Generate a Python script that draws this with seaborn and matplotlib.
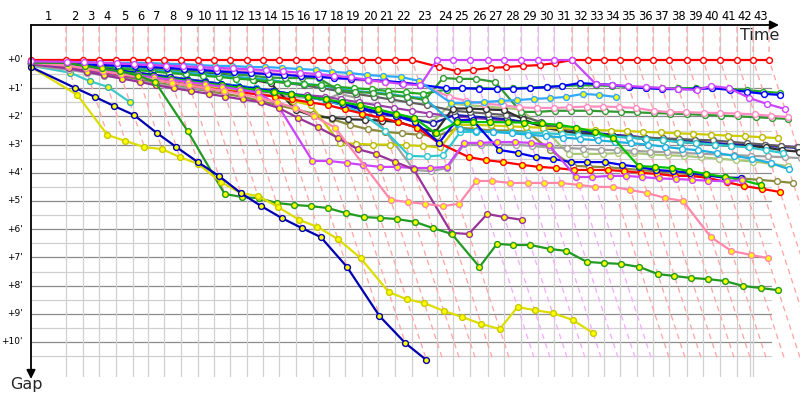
import matplotlib
matplotlib.use("Agg")
import matplotlib.pyplot as plt
import seaborn as sns
import numpy as np
import pandas as pd

# ---------------- data (gaps in minutes, index = lap 0..N) ----------------
lap_labels = [str(i) for i in range(1, 44)]
leader_time = [0, 3.80, 5.65, 7.39, 9.24, 11.09, 12.72, 14.51, 16.30, 18.10, 19.84,
               21.63, 23.48, 25.22, 27.01, 28.80, 30.65, 32.34, 34.13, 35.98, 37.72,
               39.57, 41.41, 44.13, 45.87, 47.72, 49.67, 51.41, 53.26, 55.11, 56.85,
               58.80, 60.54, 62.28, 64.02, 65.87, 67.61, 69.35, 71.30, 73.04, 74.89,
               76.74, 78.48, 80.22]
purple_lead_laps = [23, 24, 25, 26, 27, 28, 29, 30]
gap_ticks = [0, 1, 2, 3, 4, 5, 6, 7, 8, 9, 10]

red_w = [0, 0, 0, 0, 0, 0, 0, 0, 0, 0, 0, 0, 0, 0, 0, 0, 0, 0, 0, 0, 0, 0, 0,
         0.25, 0.39, 0.35, 0.28, 0.25, 0.21, 0.18, 0.11,
         0, 0, 0, 0, 0, 0, 0, 0, 0, 0, 0, 0, 0]
violet_w = [0.05, 0.06, 0.08, 0.1, 0.12, 0.15, 0.18, 0.2, 0.22, 0.25, 0.28, 0.3, 0.33, 0.36,
            0.4, 0.45, 0.5, 0.55, 0.62, 0.7, 0.78, 0.85, 0.9,
            0, 0, 0, 0, 0, 0, 0, 0, 0,
            0.85, 0.89, 0.92, 0.96, 0.99, 1.03, 1.06, 0.92, 1.0, 1.35, 1.56, 1.74]
blue_w = [0.05, 0.12, 0.15, 0.18, 0.2, 0.22, 0.25, 0.28, 0.32, 0.35, 0.4, 0.43, 0.46, 0.5,
          0.53, 0.57, 0.6, 0.64, 0.67, 0.7, 0.74, 0.8, 0.88,
          1.0, 1.0, 1.02, 1.03, 1.02, 1.0, 0.96, 0.92, 0.82,
          0.85, 0.88, 0.95, 1.0, 1.03, 1.03, 1.03, 1.0, 1.06, 1.13, 1.2, 1.24]
lightblue_y = [0.02, 0.07, 0.07, 0.1, 0.1, 0.1, 0.1, 0.14, 0.14, 0.18, 0.21, 0.21, 0.25, 0.25,
               0.28, 0.32, 0.35, 0.42, 0.46, 0.53, 0.57, 0.6, 0.74,
               1.52, 1.52, 1.49, 1.45, 1.42, 1.38, 1.35, 1.31, 1.2, 1.24, 1.31]
green_w = [0.08, 0.1, 0.13, 0.16, 0.2, 0.25, 0.28, 0.32, 0.36, 0.4, 0.45, 0.5, 0.56, 0.62,
           0.64, 0.64, 0.65, 1.06, 1.13, 1.17, 1.24, 1.31, 1.42,
           0.64, 0.67, 0.67, 0.78, 1.84, 1.84, 1.8, 1.8, 1.8,
           1.82, 1.84, 1.86, 1.88, 1.9, 1.92, 1.95, 1.97, 2.0, 2.03, 2.06, 2.09]
pink_w = [0.1, 0.08, 0.1, 0.12, 0.14, 0.16, 0.18, 0.2, 0.25, 0.3, 0.33, 0.36, 0.4, 0.45,
          0.5, 0.55, 0.58, 0.64, 0.7, 0.74, 0.78, 0.8, 0.85,
          1.3, 1.45, 1.55, 1.6, 1.68, 1.7, 1.7, 1.68, 1.65,
          1.65, 1.67, 1.7, 1.8, 1.85, 1.85, 1.87, 1.88, 1.9, 1.93, 1.98, 2.02]
green2_w = [0.1, 0.15, 0.19, 0.24, 0.3, 0.36, 0.4, 0.46, 0.5, 0.56, 0.6, 0.66, 0.7, 0.76,
            0.8, 0.86, 0.9, 0.95, 1.0, 1.04, 1.1, 1.15, 1.2,
            1.05, 1.0, 1.0, 1.02, 1.0, 0.98, 0.95, 0.92, 0.9,
            0.9, 0.92, 0.95, 0.98, 1.0, 1.0, 1.0, 0.98, 1.03, 1.07, 1.12, 1.17]
cyanA_w = [0.1, 0.12, 0.18, 0.22, 0.26, 0.3, 0.35, 0.4, 0.45, 0.5, 0.55, 0.6, 0.65, 0.7,
           0.8, 0.85, 0.9, 1.0, 1.1, 1.15, 1.2, 1.3, 1.35,
           2.45, 2.5, 2.55, 2.6, 2.65, 2.7, 2.75, 2.8, 2.85,
           2.9, 2.95, 3.0, 3.08, 3.15, 3.2, 3.3, 3.4, 3.5, 3.65, 3.87]
cyanB_w = [0.15, 0.2, 0.28, 0.35, 0.42, 0.5, 0.55, 0.62, 0.7, 0.78, 0.85, 0.92, 1.0, 1.1,
           1.2, 1.3, 1.45, 1.6, 1.9, 2.5, 3.4, 3.42, 3.38,
           2.55, 2.55, 2.55, 2.56, 2.58, 2.6, 2.63, 2.66, 2.7,
           2.72, 2.75, 2.8, 2.85, 2.9, 2.95, 3.0, 3.05, 3.1, 3.2, 3.3]
black_w = [0.02, 0.05, 0.08, 0.12, 0.15, 0.2, 0.25, 0.3, 0.35, 0.42, 0.5, 0.6, 0.71, 0.82,
           1.77, 2.0, 2.05, 2.1, 2.12, 2.15, 2.2, 2.4, 2.55,
           1.72, 1.72, 1.75, 1.78, 2.1, 2.4, 2.5, 2.6, 2.65,
           2.7, 2.75, 2.8, 2.85, 2.9, 2.95, 3.0, 3.05, 3.05, 3.1, 3.2, 3.25]
darkgray_w = [0.05, 0.1, 0.15, 0.2, 0.25, 0.3, 0.35, 0.4, 0.45, 0.5, 0.55, 0.6, 0.68, 0.75,
              0.82, 0.9, 1.0, 1.1, 1.2, 1.3, 1.4, 1.5, 1.6,
              1.8, 1.85, 1.9, 1.95, 2.0, 2.2, 2.5, 2.6, 2.65,
              2.7, 2.72, 2.75, 2.78, 2.8, 2.83, 2.85, 2.9, 2.95, 3.0, 3.05, 3.1]
yellow_w = [0.1, 0.2, 0.28, 0.36, 0.44, 0.52, 0.6, 0.7, 0.8, 0.9, 1.0, 1.1, 1.2, 1.3,
            1.45, 1.6, 2.95, 2.97, 3.0, 3.0, 3.02, 3.05, 3.1,
            2.3, 2.3, 2.32, 2.35, 2.38, 2.4, 2.42, 2.45, 2.48,
            2.5, 2.52, 2.55, 2.57, 2.6, 2.62, 2.65, 2.68, 2.7, 2.74, 2.77]
purple2_w = [0.1, 0.25, 0.35, 0.45, 0.55, 0.62, 0.7, 0.78, 0.85, 0.92, 1.0, 1.05, 1.1, 1.15,
             1.2, 1.25, 1.3, 1.4, 1.5, 1.6, 1.7, 1.8, 1.9,
             2.0, 2.05, 2.1, 2.15, 2.2, 2.3, 2.4, 2.5, 2.6,
             2.65, 2.7, 2.75, 2.8, 2.85, 2.9, 2.95, 2.98, 3.0, 3.02, 3.05, 3.08]
blue2_w = [0.1, 0.15, 0.22, 0.3, 0.37, 0.45, 0.52, 0.6, 0.68, 0.76, 0.84, 0.92, 1.0, 1.1,
           1.2, 1.3, 1.45, 1.6, 1.75, 1.9, 2.0, 2.1, 2.25,
           1.95, 2.0, 2.05, 2.1, 2.2, 2.3, 2.4, 2.5, 2.6,
           2.65, 2.7, 2.75, 2.8, 2.85, 2.9, 2.95, 3.0, 3.02, 3.05, 3.08, 3.12]
olive_w = [0.2, 0.3, 0.4, 0.5, 0.6, 0.7, 0.8, 0.9, 1.0, 1.1, 1.2, 1.3, 1.45, 1.6,
           1.75, 1.9, 2.1, 2.3, 2.45, 2.55, 2.6, 2.65, 2.7,
           2.4, 2.45, 2.5, 2.5, 2.55, 3.2, 3.75, 3.78, 3.8,
           3.85, 3.9, 3.95, 4.0, 4.05, 4.1, 4.15, 4.2, 4.25, 4.3, 4.36]
lightgreen_w = [0.12, 0.15, 0.22, 0.3, 0.38, 0.45, 0.52, 0.6, 0.68, 0.76, 0.84, 0.92, 1.0, 1.1,
                1.2, 1.3, 1.4, 1.5, 1.65, 1.8, 1.95, 2.1, 2.2,
                1.55, 1.6, 1.65, 1.7, 1.75, 2.4, 3.33, 3.33, 3.33,
                3.3, 3.3, 3.35, 3.38, 3.4, 3.45, 3.5, 3.55, 3.6, 3.68, 3.76]
gray_w = [0.2, 0.35, 0.45, 0.55, 0.65, 0.75, 0.85, 0.95, 1.0, 1.05, 1.1, 1.15, 1.2, 1.25,
          1.3, 1.35, 1.4, 1.2, 1.35, 2.5, 3.9, 3.94, 3.83,
          2.98, 3.0, 3.0, 3.0, 3.05, 3.1, 3.12, 3.15, 3.18,
          3.2, 3.22, 3.25, 3.27, 3.3, 3.32, 3.35, 3.37, 3.4, 3.42, 3.45, 3.48]
red_y = [0.15, 0.2, 0.3, 0.4, 0.5, 0.6, 0.7, 0.8, 0.9, 1.0, 1.08, 1.15, 1.22, 1.3,
         1.4, 1.5, 1.6, 1.75, 1.9, 2.05, 2.2, 2.4, 2.95,
         3.44, 3.55, 3.62, 3.72, 3.79, 3.83, 3.9, 3.9, 3.9,
         3.94, 4.0, 4.04, 4.11, 4.11, 4.18, 4.33, 4.47, 4.57, 4.68]
blue_y = [0.12, 0.15, 0.22, 0.3, 0.38, 0.46, 0.54, 0.62, 0.7, 0.78, 0.86, 0.94, 1.02, 1.1,
          1.2, 1.3, 1.4, 1.55, 1.7, 1.85, 2.0, 2.2, 2.94,
          2.13, 2.13, 3.19, 3.3, 3.44, 3.51, 3.62, 3.62, 3.62,
          3.72, 3.79, 3.9, 3.94, 4.0, 4.08, 4.18, 4.18]
green_y = [0.1, 0.18, 0.26, 0.34, 0.42, 0.5, 0.58, 0.66, 0.74, 0.82, 0.9, 0.98, 1.06, 1.14,
           1.22, 1.3, 1.4, 1.5, 1.6, 1.75, 1.9, 2.05, 2.6,
           2.2, 2.2, 2.2, 2.21, 2.22, 2.25, 2.3, 2.4, 2.55,
           2.77, 3.76, 3.79, 3.83, 3.94, 4.04, 4.15, 4.26, 4.43]
violet_y = [0.1, 0.2, 0.3, 0.38, 0.46, 0.54, 0.62, 0.7, 0.78, 0.86, 0.95, 1.05, 1.15, 1.6,
            3.58, 3.58, 3.65, 3.72, 3.79, 3.79, 3.83, 3.83, 3.79,
            2.94, 2.94, 2.91, 2.91, 2.94, 3.01, 4.15, 4.15, 4.11,
            4.11, 4.15, 4.2, 4.22, 4.25, 4.28, 4.3, 4.26]
purple_y = [0.15, 0.3, 0.42, 0.54, 0.66, 0.78, 0.9, 1.0, 1.1, 1.2, 1.3, 1.4, 1.5, 1.7,
            2.06, 2.38, 2.77, 3.16, 3.33, 3.62, 3.87, 6.13, 6.17,
            5.46, 5.57, 5.67]
pink_y = [0.1, 0.2, 0.3, 0.4, 0.5, 0.6, 0.7, 0.8, 0.9, 1.0, 1.1, 1.2, 1.35, 1.5,
          1.7, 2.0, 2.4, None, 4.96, 5.04, 5.1, 5.18, 5.1,
          4.29, 4.29, 4.36, 4.36, 4.36, 4.36, 4.43, 4.5, 4.5,
          4.61, 4.72, 4.89, 5.0, 6.28, 6.77, 6.91, 7.02]
greenbig_y = [0.1, 0.1, 0.2, 0.3, 0.4, 0.55, 0.78, 2.52, 4.75, 4.86, 4.9, 5.07, 5.14, 5.18,
              5.25, 5.43, 5.57, 5.6, 5.64, 5.74, 5.96, 6.17, 7.34,
              6.52, 6.56, 6.56, 6.7, 6.77, 7.16, 7.2, 7.23, 7.34,
              7.59, 7.66, 7.73, 7.77, 7.84, 8.01, 8.09, 8.16]
yellowbig_y = [0.25, 1.24, 2.66, 2.87, 3.09, 3.16, 3.44, 3.69, 4.33, 4.72, 4.82, 5.21, 5.67,
               5.92, 6.35, 7.02, 8.23, 8.48, 8.62, 8.9, 9.11, 9.36, 9.54,
               8.76, 8.87, 8.97, 9.22, 9.68]
darkblue_y = [0.25, 0.99, 1.31, 1.63, 1.95, 2.59, 3.09, 3.62, 4.11, 4.72, 5.18, 5.6, 5.96,
              6.28, 7.34, 9.08, 10.04, 10.64]
cyan_y = [0.2, 0.45, 0.75, 0.95, 1.49]

# drawing order: (data, line colour, marker face, marker edge)
series = [
    (cyan_y, "#40c8c8", "#ffff00", "#30b0b0"),
    (olive_w, "#8a8a3c", "white", "#8a8a3c"),
    (lightgreen_w, "#a8c878", "white", "#a8c878"),
    (gray_w, "#a0a0a0", "white", "#a0a0a0"),
    (purple2_w, "#9a40a8", "white", "#9a40a8"),
    (blue2_w, "#1a1ab0", "white", "#1a1ab0"),
    (darkgray_w, "#606060", "white", "#606060"),
    (black_w, "#303030", "white", "#303030"),
    (yellow_w, "#cccc00", "white", "#b8b800"),
    (cyanB_w, "#30c8d0", "white", "#30c8d0"),
    (cyanA_w, "#20b0e0", "white", "#20b0e0"),
    (green2_w, "#22aa22", "white", "#22aa22"),
    (green_w, "#339933", "white", "#339933"),
    (pink_w, "#ff8cc0", "white", "#ff8cc0"),
    (blue_w, "#0000ff", "white", "#0000ff"),
    (lightblue_y, "#30a8ff", "#ffff00", "#30a8ff"),
    (red_y, "#ff0000", "#ffff00", "#ff0000"),
    (blue_y, "#0000ee", "#ffff00", "#0000ee"),
    (green_y, "#00c000", "#ffff00", "#00a000"),
    (violet_y, "#cc44ff", "#ffff00", "#cc44ff"),
    (purple_y, "#993399", "#ffff00", "#993399"),
    (pink_y, "#ff88aa", "#ffff00", "#ff88aa"),
    (greenbig_y, "#229922", "#ffff00", "#229922"),
    (yellowbig_y, "#dddd00", "#ffff00", "#c8c800"),
    (darkblue_y, "#0000b0", "#ffff00", "#0000b0"),
    (red_w, "#ff0000", "white", "#ff0000"),
    (violet_w, "#cc44ff", "white", "#cc44ff"),
]

# ---------------- pixel geometry ----------------
W, H = 800, 400
X0, Y0 = 31, 60          # pixel of time 0 / gap 0
SX, SY = 9.2, 28.2       # pixels per minute (time axis / gap axis)


def gx(px):
    return (px - X0) / SX


def gy(py):
    return (py - Y0) / SY


sns.set_theme(style="white")
plt.rcParams['font.family'] = ['DejaVu Sans']
fig = plt.figure(figsize=(8, 4), dpi=100)
ax = fig.add_axes([0, 0, 1, 1])
ax.set_xlim(gx(0), gx(W))
ax.set_ylim(gy(H), gy(0))
ax.axis("off")

# grid
x_end = gx(771)
for k in range(0, 11):
    ax.plot([0, x_end], [k + 0.5, k + 0.5], color="#d0d0d0", lw=0.9, zorder=1)
for k in range(1, 11):
    ax.plot([0, x_end], [k, k], color="#8c8c8c", lw=0.9, zorder=1)
for n in range(1, 43):
    ax.plot([leader_time[n]] * 2, [gy(26), gy(376)], color="#d0d0d0", lw=0.9, zorder=1)
ax.plot([gx(750)] * 2, [gy(26), gy(376)], color="#d0d0d0", lw=0.9, zorder=1)

# per-lap deepest gap -> extent of the lap lines
max_gap = []
for n in range(1, 44):
    vals = [s[0][n] for s in series if len(s[0]) > n and s[0][n] is not None]
    max_gap.append(max(vals))
extent = np.maximum.accumulate(max_gap)
for n in range(1, 44):
    col = "#f5b0ff" if n in purple_lead_laps else "#ffaaaa"
    e = extent[n - 1]
    ax.plot([leader_time[n], leader_time[n], leader_time[n] + e],
            [gy(27), 0, e], color=col, lw=1.0, ls=(0, (4, 3)), zorder=2)

# series
for data, col, face, edge in series:
    xs, ys = [], []
    for i, g in enumerate(data):
        if g is None:
            continue
        xs.append(0 if i == 0 else leader_time[i] + g)
        ys.append(g)
    df = pd.DataFrame({"t": xs, "gap": ys})
    sns.lineplot(data=df, x="t", y="gap", sort=False, estimator=None, ax=ax,
                 color=col, lw=1.6, marker="o", ms=4.2, mfc=face, mec=edge, mew=1.0,
                 zorder=3, legend=False)
ax.set_xlim(gx(0), gx(W))
ax.set_ylim(gy(H), gy(0))
ax.axis("off")

# axes with arrows
ax.annotate("", xy=(gx(779), gy(25)), xytext=(0, gy(25)),
            arrowprops=dict(arrowstyle="-|>", color="black", lw=1.3, mutation_scale=13,
                            shrinkA=0, shrinkB=0), zorder=5)
ax.annotate("", xy=(0, gy(379)), xytext=(0, gy(25)),
            arrowprops=dict(arrowstyle="-|>", color="black", lw=1.3, mutation_scale=13,
                            shrinkA=0, shrinkB=0), zorder=5)

# lap labels
for n in range(1, 44):
    xm = (leader_time[n - 1] + leader_time[n]) / 2
    ax.text(xm, gy(17), lap_labels[n - 1], ha="center", va="center", fontsize=8.3,
            color="black")
for k in gap_ticks:
    ax.text(gx(23), k, f"+{k}'", ha="right", va="center", fontsize=6.5, color="black")
ax.text(gx(760), gy(35), "Time", ha="center", va="center", fontsize=11.5)
ax.text(gx(26), gy(385), "Gap", ha="center", va="center", fontsize=11.5)

fig.savefig("out.png", dpi=100)
